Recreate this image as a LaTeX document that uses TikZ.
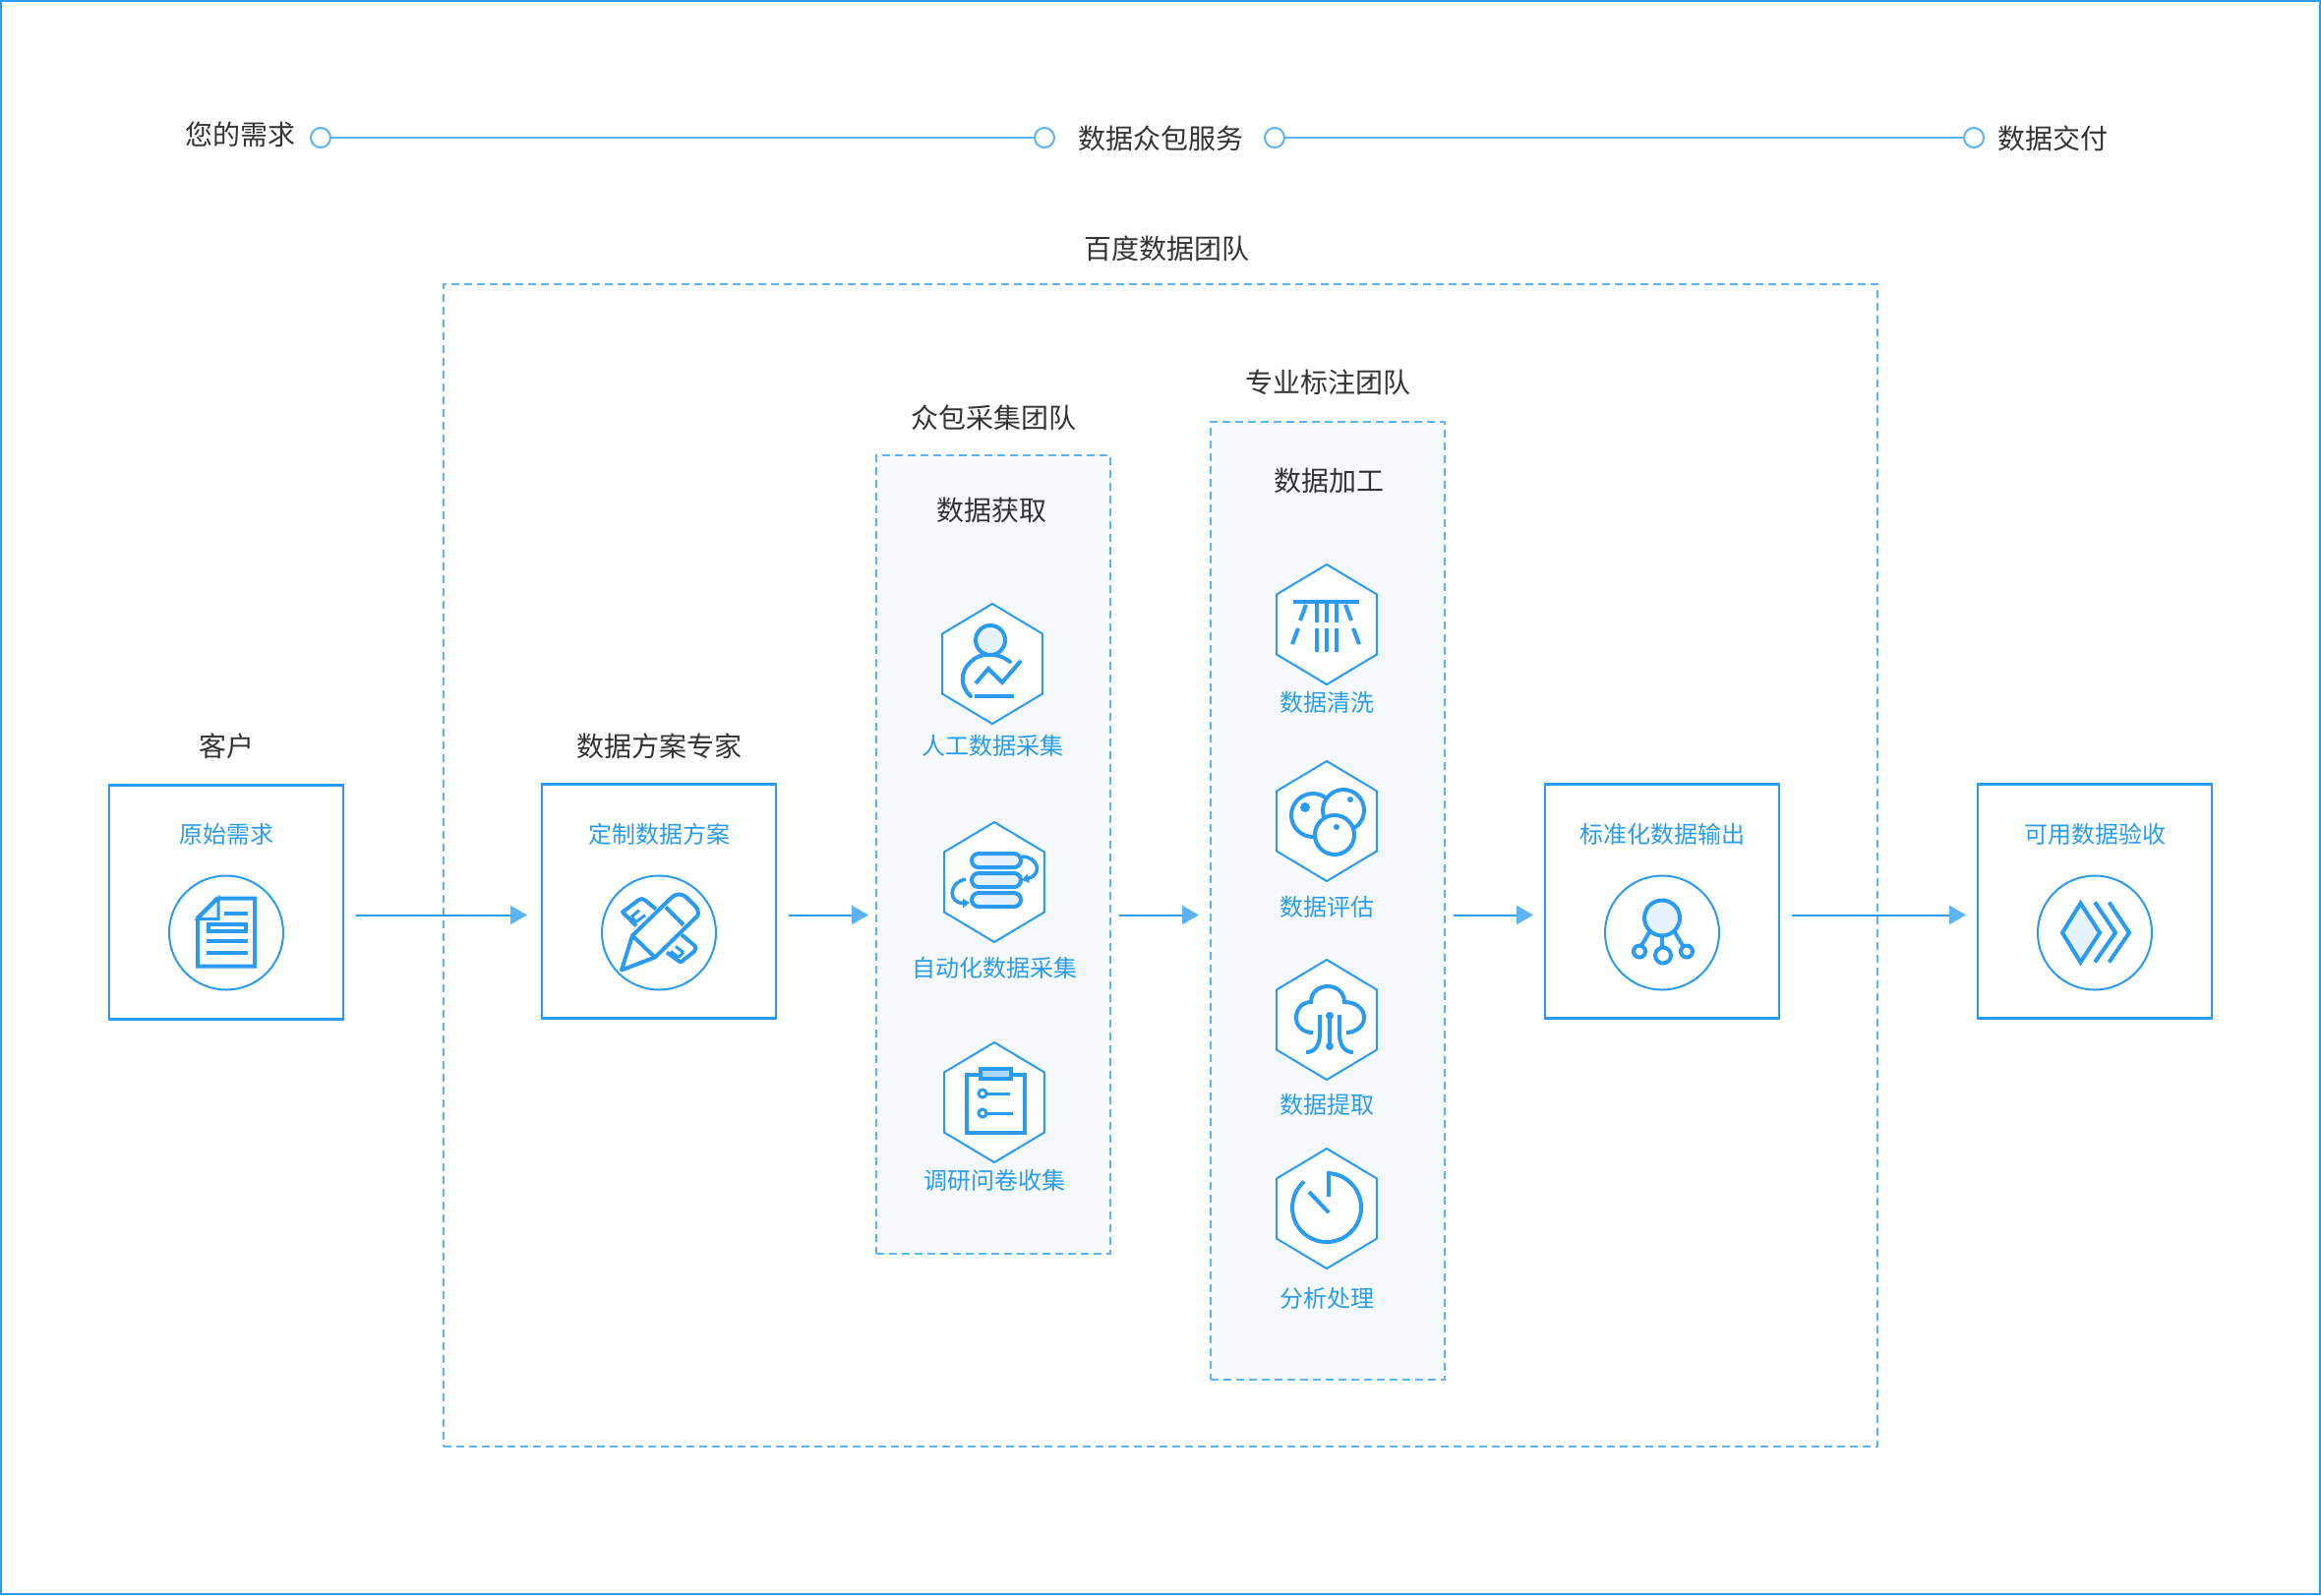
\documentclass[tikz,border=0pt]{standalone}
\usepackage{fontspec}
\setmainfont{Noto Sans CJK SC}
\usetikzlibrary{positioning,arrows.meta,calc,shapes.geometric}
\definecolor{figblue}{HTML}{2A9BF0}
\definecolor{figlight}{HTML}{5CB3F5}
\definecolor{figpale}{HTML}{E6F3FD}
\definecolor{figpanel}{HTML}{F6FAFF}
\definecolor{figtext}{HTML}{333333}
\tikzset{
  ttl/.style={font=\fontsize{28}{32}\selectfont,text=figtext,inner sep=0pt,outer sep=0pt,
              text height=24.6pt,text depth=3.4pt},
  lbl/.style={font=\fontsize{24}{28}\selectfont,text=figblue,inner sep=0pt,outer sep=0pt,
              text height=21.1pt,text depth=2.9pt},
  box/.style={draw=figblue,line width=2.4pt,minimum width=238pt,minimum height=238pt,inner sep=0pt,outer sep=0pt},
  dbox/.style={draw=figlight,line width=2pt,dash pattern=on 8pt off 5pt,inner sep=0pt,outer sep=0pt},
  panel/.style={dbox,fill=figpanel,minimum width=238pt},
  disc/.style={circle,draw=figblue,line width=2pt,minimum size=116pt,inner sep=0pt,outer sep=0pt},
  hex/.style={regular polygon,regular polygon sides=6,shape border rotate=30,draw=figblue,
              line width=2pt,fill=white,minimum size=122pt,inner sep=0pt,outer sep=0pt,
              xscale=.965,transform shape},
  dot/.style={circle,draw=figlight,line width=2pt,fill=white,minimum size=20pt,inner sep=0pt,outer sep=0pt},
  tl/.style={draw=figlight,line width=2pt},
  ln/.style={-{Stealth[length=17pt,width=19pt,inset=0pt,color=figlight]},draw=figblue,line width=2pt},
  ic/.style={draw=figblue,line width=4pt},
  icf/.style={ic,fill=figpale},
}
\begin{document}
\begin{tikzpicture}[x=1pt,y=-1pt]
\useasboundingbox (0,0) rectangle (2360,1622);
\draw[figblue,line width=2pt] (1,1) rectangle (2359,1621);

\node[dot] (need) at (326,140) {};
\node[dot] (mid) at (1062,140) {};
\node[dot] (serve) at (1296,140) {};
\node[dot] (deliver) at (2007,140) {};
\draw[tl] (need) -- (mid);
\draw[tl] (serve) -- (deliver);
\node[ttl] (needt) at (244,137) {您的需求};
\node[ttl] (servet) at (1180,141) {数据众包服务};
\node[ttl] (delivert) at (2087,141) {数据交付};

\node[dbox,minimum width=1458pt,minimum height=1182pt] (team) at (1180,880) {};
\node[ttl,above=22pt of team,xshift=6pt] (teamt) {百度数据团队};

\node[panel,minimum height=812pt] (collect) at (1010,869) {};
\node[ttl,above=24pt of collect] (collectt) {众包采集团队};
\node[ttl] (collectb) at ($(collect.north)+(-2,56)$) {数据获取};
\node[panel,minimum height=974pt] (label) at (1350,916) {};
\node[ttl,above=26pt of label] (labelt) {专业标注团队};
\node[ttl] (labelb) at ($(label.north)+(1,60)$) {数据加工};

\node[box] (cust) at (230,917.5) {};
\node[box] (plan) at (670,916.5) {};
\node[box] (std) at (1690,916.5) {};
\node[box] (acc) at (2130,916.5) {};
\node[ttl,above=26pt of cust] (custt) {客户};
\node[ttl,above=25pt of plan] (plant) {数据方案专家};
\node[lbl] (custb) at ($(cust.north)+(0,50)$) {原始需求};
\node[lbl] (planb) at ($(plan.north)+(0,51)$) {定制数据方案};
\node[lbl] (stdb) at ($(std.north)+(0,51)$) {标准化数据输出};
\node[lbl] (accb) at ($(acc.north)+(0,51)$) {可用数据验收};
\node[disc] (custc) at ($(cust.center)+(0,31)$) {};
\node[disc] (planc) at ($(plan.center)+(0,32)$) {};
\node[disc] (stdc) at ($(std.center)+(0,32)$) {};
\node[disc] (accc) at ($(acc.center)+(0,32)$) {};

\node[hex] (manual) at (1009,675) {};
\node[hex] (auto) at (1011,897) {};
\node[hex] (survey) at (1011,1121) {};
\node[hex] (clean) at (1349,635) {};
\node[hex] (assess) at (1349,835) {};
\node[hex] (extract) at (1349,1037) {};
\node[hex] (analyse) at (1349,1229) {};
\node[lbl,below=10pt of manual] (manualt) {人工数据采集};
\node[lbl,below=14pt of auto] (autot) {自动化数据采集};
\node[lbl,below=6pt of survey] (surveyt) {调研问卷收集};
\node[lbl,below=6pt of clean] (cleant) {数据清洗};
\node[lbl,below=14pt of assess] (assesst) {数据评估};
\node[lbl,below=13pt of extract] (extractt) {数据提取};
\node[lbl,below=18pt of analyse] (analyset) {分析处理};

\coordinate (flow) at (0,930.5);
\draw[ln] ([xshift=13pt]cust.east |- flow) -- ([xshift=-15pt]plan.west |- flow);
\draw[ln] ([xshift=13pt]plan.east |- flow) -- ([xshift=-8pt]collect.west |- flow);
\draw[ln] ([xshift=9pt]collect.east |- flow) -- ([xshift=-12pt]label.west |- flow);
\draw[ln] ([xshift=9pt]label.east |- flow) -- ([xshift=-12pt]std.west |- flow);
\draw[ln] ([xshift=13pt]std.east |- flow) -- ([xshift=-12pt]acc.west |- flow);

\begin{scope}[shift={(custc.center)}]
\draw[ic,fill=white] (-29,-15) -- (-9,-35) -- (29,-35) -- (29,34) -- (-29,34) -- cycle;
\draw[icf,line width=3pt] (-29,-14) -- (-8,-35) -- (-8,-14) -- cycle;
\draw[ic] (-2,-20) -- (22,-20) (-20,8) -- (22,8) (-20,20) -- (22,20);
\draw[ic] (-18,-9) rectangle (20,-2);
\end{scope}

\begin{scope}[shift={(planc.center)}]
\draw[ic,line join=round] (-3,-24) -- (-14,-33) .. controls (-16,-35) and (-19,-35) .. (-21,-33) -- (-37,-21) -- (-23,-7);
\draw[ic,line width=3pt] (-28,-16) -- (-20,-23) (-23,-11) -- (-14,-18) (-28,-16) -- (-23,-11);
\draw[ic,line join=round] (23,2) -- (35,12) .. controls (38,14) and (38,17) .. (36,19) -- (22,30) -- (8,20);
\draw[ic,line width=3pt] (25,20) -- (17,14) (20,25) -- (12,19) (25,20) -- (20,25);
\draw[ic,line join=round] (-38,38) -- (-27,3) -- (12,-35) .. controls (18,-41) and (24,-40) .. (29,-35) -- (36,-28)
  .. controls (41,-23) and (41,-18) .. (38,-16) -- (-4,25) -- cycle;
\draw[ic] (-27,3) -- (-4,25) (7,-26) -- (25,-8);
\end{scope}

\begin{scope}[shift={(stdc.center)}]
\draw[ic] (0,0) -- (0,15) (-12,-2) -- (-21,13) (12,-2) -- (21,13);
\draw[icf] (0,-15) circle (18);
\draw[ic,fill=white] (1,23) circle (8);
\draw[ic,fill=white] (-23,19) circle (6);
\draw[ic,fill=white] (25,19) circle (6);
\end{scope}

\begin{scope}[shift={(accc.center)}]
\draw[icf] (-33,0) -- (-14.5,-30) -- (5,0) -- (-14.5,30) -- cycle;
\draw[ic] (0,-31) -- (21,0) -- (0,30);
\draw[ic] (14.5,-31) -- (35,0) -- (14.5,30);
\end{scope}

\begin{scope}[shift={(manual.center)}]
\draw[ic,line cap=round] (18,-2) .. controls (5,-12) and (-12,-12) .. (-22,-2)
  .. controls (-33,8) and (-33,23) .. (-22,33);
\draw[icf] (-2,-24) circle (15);
\draw[ic] (-17,20) -- (-4,5) -- (10,19) -- (29,-3);
\draw[ic] (-18,33) -- (22,33);
\end{scope}

\begin{scope}[shift={(auto.center)}]
\foreach \py in {-22,-2,18}
  \draw[icf,rounded corners=7pt] (-23,\py-7) rectangle (27,\py+7);
\draw[ic,line width=3.5pt,-{Stealth[length=7pt,width=9pt,inset=0pt]}] (28,-26) .. controls (44,-26) and (50,-8) .. (28,-2);
\draw[ic,line width=3.5pt,-{Stealth[length=7pt,width=9pt,inset=0pt]}] (-29,-3) .. controls (-48,1) and (-46,22) .. (-25,21);
\end{scope}

\begin{scope}[shift={(survey.center)}]
\draw[ic] (-28,-28) rectangle (31,31);
\draw[icf,fill=figlight!50] (-14,-34) rectangle (17,-24);
\draw[ic,line width=3pt] (-8,-9) -- (16,-9) (-8,11) -- (19,11);
\draw[ic,line width=3pt,fill=white] (-12,-9) circle (4);
\draw[ic,line width=3pt,fill=white] (-12,11) circle (4);
\end{scope}

\begin{scope}[shift={(clean.center)}]
\draw[ic] (-34,-23) -- (33,-23);
\foreach \px in {-10,0,10}
  \draw[ic] (\px,-22) -- (\px,-2) (\px,4) -- (\px,28);
\draw[ic] (-21,-20) -- (-27,-4) (-29,4) -- (-35,20);
\draw[ic] (19,-20) -- (25,-4) (27,4) -- (33,20);
\end{scope}

\begin{scope}[shift={(assess.center)}]
\draw[ic,fill=white] (-14,-6) circle (22);
\draw[ic,fill=white] (17,-11) circle (21);
\draw[ic,fill=white] (8,14) circle (20);
\fill[figblue] (-22,-14) circle (5) (24,-22) circle (3) (10,6) circle (3);
\end{scope}

\begin{scope}[shift={(extract.center)}]
\draw[ic] (-14,13) .. controls (-25,13) and (-31,6) .. (-31,-2) .. controls (-31,-12) and (-24,-18) .. (-16,-18)
  .. controls (-16,-28) and (-8,-34) .. (1,-34) .. controls (10,-34) and (18,-28) .. (18,-18)
  .. controls (30,-18) and (38,-11) .. (38,-2) .. controls (38,6) and (30,13) .. (20,13);
\draw[ic] (3,-4) -- (3,27);
\fill[figblue] (3,-4) circle (4) (3,27) circle (4);
\draw[ic] (-7,-5) -- (-7,14) .. controls (-7,26) and (-12,33) .. (-21,33);
\draw[ic] (13,-5) -- (13,14) .. controls (13,26) and (18,33) .. (27,33);
\end{scope}

\begin{scope}[shift={(analyse.center)}]
\draw[ic] plot[smooth,domain=-90:229,samples=60] ({35*cos(\x)},{-1+35*sin(\x)});
\draw[ic] (2,-36) -- (2,-12);
\draw[ic] (-18,-17) -- (2,4);
\end{scope}
\end{tikzpicture}
\end{document}
